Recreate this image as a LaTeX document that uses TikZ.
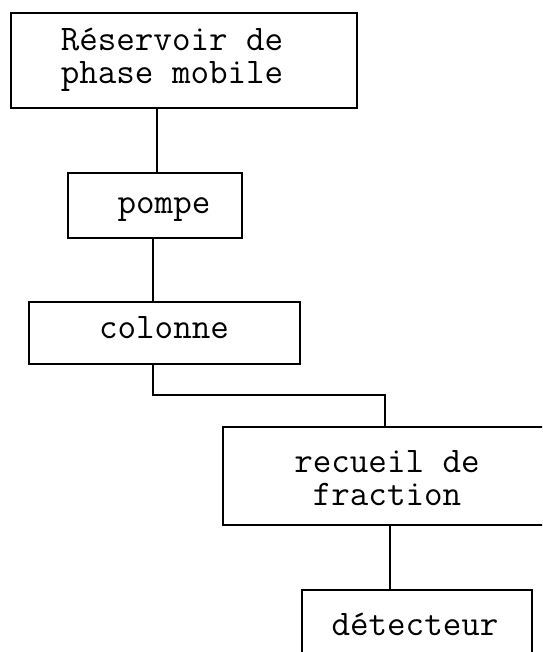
\documentclass[tikz,border=0pt]{standalone}
\usepackage{fontspec}
\begin{document}
\begin{tikzpicture}[x=1pt,y=-1pt,
  box/.style={draw=black,line width=2pt,inner sep=0pt,fill=none},
  lbl/.style={font=\ttfamily\fontsize{36}{33}\selectfont,inner sep=0pt,align=center},
  link/.style={line width=2.2pt}]
\useasboundingbox (0,0) rectangle (542,652);
\clip (0,0) rectangle (542,652);
% boxes
\node[box,minimum width=346pt,minimum height=95pt] (b1) at (184,60.5) {};
\node[box,minimum width=174pt,minimum height=65pt] (b2) at (155,205.5) {};
\node[box,minimum width=271pt,minimum height=62pt] (b3) at (164.5,333) {};
\node[box,minimum width=347pt,minimum height=98pt] (b4) at (396.5,476) {};
\node[box,minimum width=230pt,minimum height=90pt] (b5) at (417,635) {};
% texts
\node[lbl] (t1) at (172,60) {Réservoir de\\phase mobile};
\node[lbl,anchor=base] (t2) at (164,213) {pompe};
\node[lbl,anchor=base] (t3) at (164,338) {colonne};
\node[lbl] (t4) at (387,478) {recueil de\\fraction};
\node[lbl,anchor=base] (t5) at (415,635) {détecteur};
% connectors
\draw[link] ([xshift=-27pt]b1.south) -- ([xshift=-27pt]b1.south |- b2.north);
\draw[link] ([xshift=-2pt]b2.south) -- ([xshift=-2pt]b2.south |- b3.north);
\coordinate (k1) at (153,395);
\coordinate (k2) at (385,395);
\draw[link] ([xshift=-11.5pt]b3.south) -- (k1) -- (k2) -- (k2 |- b4.north);
\draw[link] (390,525) coordinate (k3) -- (k3 |- b5.north);
\end{tikzpicture}
\end{document}
